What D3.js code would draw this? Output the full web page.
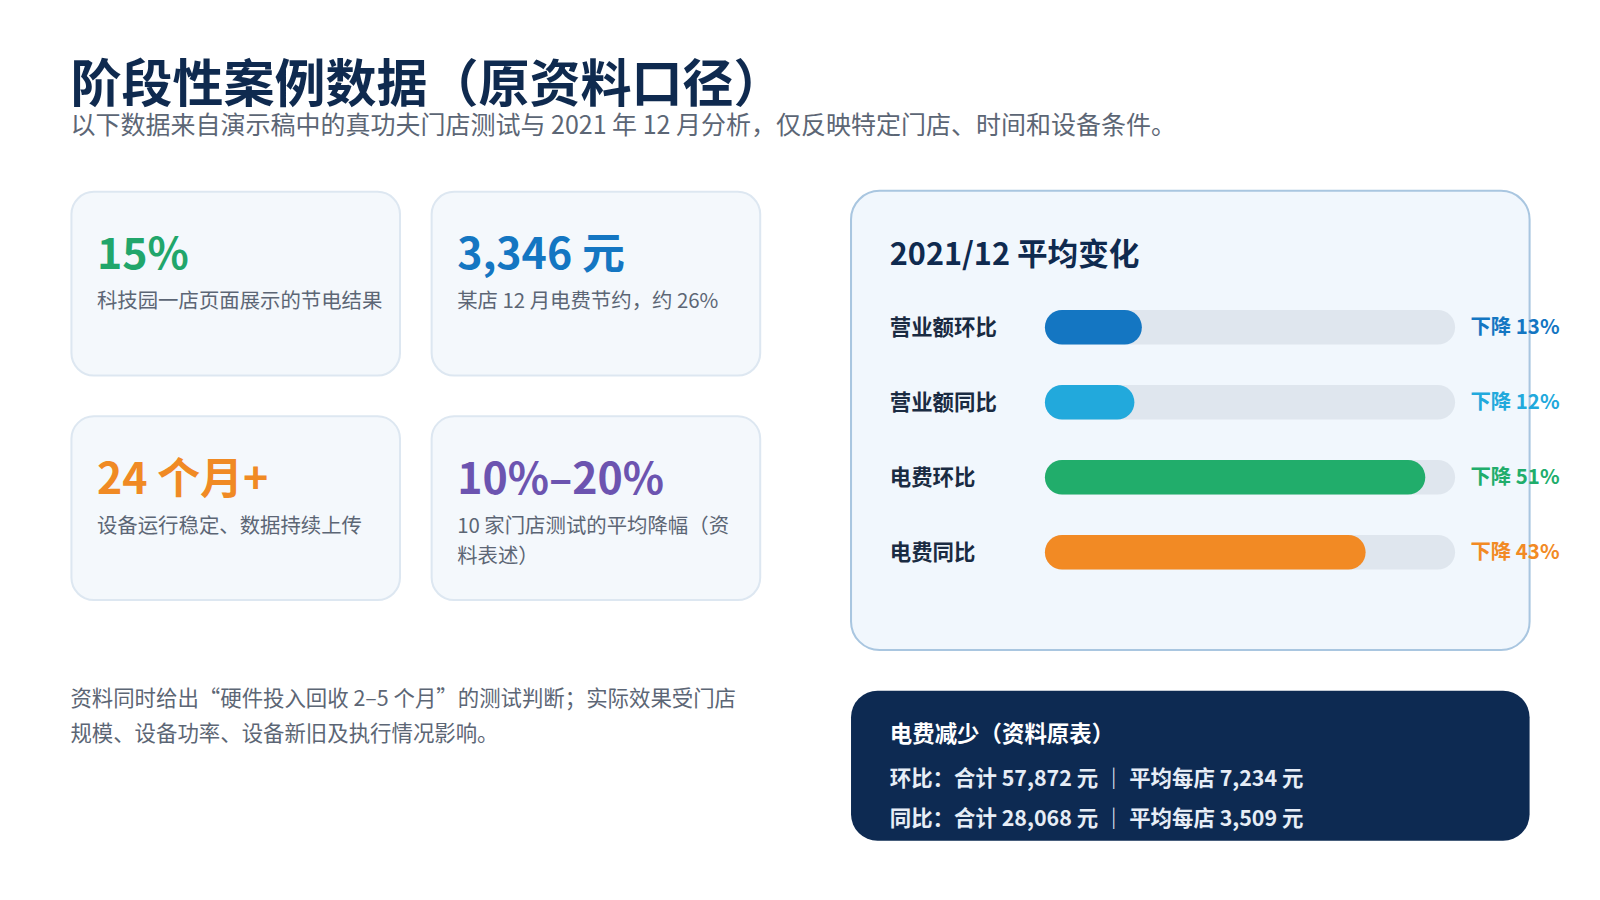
<!DOCTYPE html>
<html><head><meta charset="utf-8">
<script src="https://cdn.jsdelivr.net/npm/d3@7"></script>
<style>body{margin:0;background:#fff}svg{display:block}text{font-family:"Noto Sans CJK SC","Noto Sans",sans-serif}</style>
</head><body><svg id="c" width="1600" height="900"></svg>
<script>
// data
const cardValues = ['15%', '3,346 元', '24 个月+', '10%–20%'];
const cardNotes = [['科技园一店页面展示的节电结果'], ['某店 12 月电费节约，约 26%'], ['设备运行稳定、数据持续上传'], ['10 家门店测试的平均降幅（资', '料表述）']];
const cardColors = ['#21a66b', '#1476c2', '#f08a24', '#6c54b0'];
const barLabels = ['营业额环比', '营业额同比', '电费环比', '电费同比'];
const barValues = [13, 12, 51, 43];
const barColors = ['#1476c2', '#22a9dc', '#21ad6b', '#f28a24'];

// layout measured on a 1568-wide copy, so scale up to 1600
const svg = d3.select('#c').append('g').attr('transform', `scale(${1600 / 1568})`);
svg.append('text').attr('x', 69).attr('y', 100).attr('font-size', 50).attr('font-weight', 700).attr('fill', '#0f2a4f').text('阶段性案例数据（原资料口径）');
svg.append('text').attr('x', 69).attr('y', 131).attr('font-size', 24.5).attr('fill', '#5c6675').text('以下数据来自演示稿中的真功夫门店测试与 2021 年 12 月分析，仅反映特定门店、时间和设备条件。');

// KPI cards
cardValues.forEach((v, i) => {
  const x = 70 + (i % 2) * 353, y = 188 + Math.floor(i / 2) * 220;
  svg.append('rect').attr('x', x).attr('y', y).attr('width', 322).attr('height', 180).attr('rx', 22)
    .attr('fill', '#f4f8fc').attr('stroke', '#dde7f1').attr('stroke-width', 2);
  svg.append('text').attr('x', x + 25).attr('y', y + 76).attr('font-size', 42).attr('font-weight', 700).attr('fill', cardColors[i]).text(v);
  cardNotes[i].forEach((t, j) => svg.append('text').attr('x', x + 25).attr('y', y + 114 + j * 30).attr('font-size', 20).attr('fill', '#5c6675').text(t));
});

svg.append('text').attr('x', 69).attr('y', 692).attr('font-size', 21).attr('fill', '#5c6675').text('资料同时给出“硬件投入回收 2–5 个月”的测试判断；实际效果受门店');
svg.append('text').attr('x', 69).attr('y', 726).attr('font-size', 21).attr('fill', '#5c6675').text('规模、设备功率、设备新旧及执行情况影响。');

// bar panel
svg.append('rect').attr('x', 834).attr('y', 187).attr('width', 665).attr('height', 450).attr('rx', 28)
  .attr('fill', '#f1f7fd').attr('stroke', '#a9c6e0').attr('stroke-width', 2);
svg.append('text').attr('x', 872).attr('y', 260).attr('font-size', 30).attr('font-weight', 700).attr('fill', '#0f2a4f').text('2021/12 平均变化');

const x = d3.scaleLinear().domain([0, 55]).range([1024, 1426]);
const y = d3.scaleBand().domain(barLabels).range([284, 578]).paddingInner(0.54).paddingOuter(0.27);
const g = svg.append('g');
const row = g.selectAll('g').data(barLabels).join('g').attr('transform', d => `translate(0,${y(d)})`);
const h = y.bandwidth();
row.append('text').attr('x', 872).attr('y', h / 2 + 8).attr('font-size', 21).attr('font-weight', 700).attr('fill', '#1a2b42').text(d => d);
row.append('rect').attr('x', x(0)).attr('width', x(55) - x(0)).attr('height', h).attr('rx', h / 2).attr('fill', '#dfe6ee');
row.append('rect').attr('x', x(0)).attr('width', (d, i) => x(barValues[i]) - x(0)).attr('height', h).attr('rx', h / 2).attr('fill', (d, i) => barColors[i]);
row.append('text').attr('x', 1441).attr('y', h / 2 + 7).attr('font-size', 20).attr('font-weight', 700).attr('fill', (d, i) => barColors[i]).text((d, i) => `下降 ${barValues[i]}%`);

// navy summary box
svg.append('rect').attr('x', 834).attr('y', 677).attr('width', 665).attr('height', 147).attr('rx', 26).attr('fill', '#0d2a52');
svg.append('text').attr('x', 872).attr('y', 727).attr('font-size', 22).attr('font-weight', 700).attr('fill', '#fff').text('电费减少（资料原表）');
svg.append('text').attr('x', 872).attr('y', 770).attr('font-size', 21).attr('font-weight', 700).attr('fill', '#e6edf6').text('环比：合计 57,872 元 ｜ 平均每店 7,234 元');
svg.append('text').attr('x', 872).attr('y', 809).attr('font-size', 21).attr('font-weight', 700).attr('fill', '#e6edf6').text('同比：合计 28,068 元 ｜ 平均每店 3,509 元');
</script></body></html>
